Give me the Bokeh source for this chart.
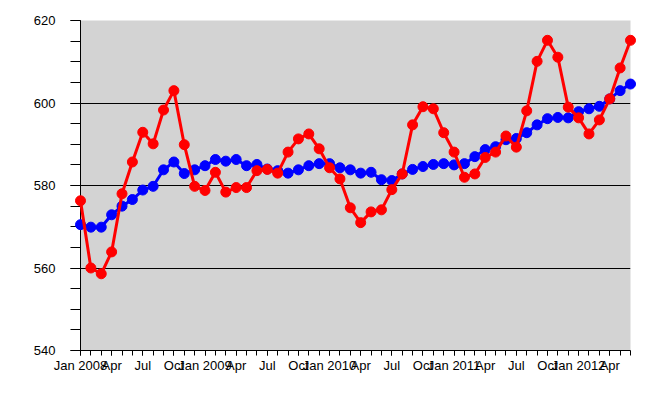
from bokeh.plotting import figure
from bokeh.models import Range1d, FixedTicker
from bokeh.embed import file_html
from bokeh.resources import INLINE

# ---- data ----
month_names = ["Jan", "Feb", "Mar", "Apr", "May", "Jun",
               "Jul", "Aug", "Sep", "Oct", "Nov", "Dec"]
start_year = 2008
n_months = 54  # Jan 2008 .. Jun 2012

red_values = [576.3, 560.0, 558.6, 563.9, 578.0, 585.7, 592.9, 590.1, 598.3, 603.0, 589.9, 579.8,
              578.8, 583.2, 578.4, 579.5, 579.5, 583.6, 583.9, 583.0, 588.1, 591.3, 592.5, 588.9,
              584.3, 581.6, 574.6, 571.0, 573.6, 574.1, 579.0, 582.8, 594.7, 599.1, 598.6, 592.8,
              588.1, 582.0, 582.8, 586.8, 588.1, 592.0, 589.3, 598.1, 610.1, 615.2, 611.1, 599.0,
              596.4, 592.5, 595.9, 601.0, 608.5, 615.2]

blue_values = [570.5, 569.9, 569.9, 572.9, 575.0, 576.6, 578.9, 579.8, 583.8, 585.7, 582.9, 583.8,
               584.8, 586.3, 585.9, 586.3, 584.8, 585.1, 584.0, 583.6, 583.0, 583.8, 584.8, 585.3,
               585.3, 584.3, 583.8, 583.0, 583.2, 581.4, 581.2, 582.8, 583.9, 584.6, 585.1, 585.3,
               585.0, 585.3, 587.0, 588.7, 589.4, 591.1, 591.4, 592.8, 594.7, 596.2, 596.5, 596.4,
               597.9, 598.6, 599.2, 601.0, 603.0, 604.6]

y_major = [540, 560, 580, 600, 620]
y_minor = list(range(540, 621, 5))

x = list(range(n_months))

p = figure(width=642, height=392, output_backend="svg", toolbar_location=None,
           x_range=Range1d(0, n_months - 1), y_range=Range1d(540, 620),
           min_border_left=80, min_border_right=12, min_border_top=20, min_border_bottom=42)

p.background_fill_color = "#d3d3d3"
p.border_fill_color = "white"
p.outline_line_color = None

# x axis ticks: quarterly labels, monthly ticks
q_ticks = [i for i in x if i % 3 == 0]
labels = {}
for i in q_ticks:
    m = i % 12
    if m == 0:
        labels[i] = f"{month_names[m]} {start_year + i // 12}"
    else:
        labels[i] = month_names[m]
p.xaxis.ticker = FixedTicker(ticks=q_ticks, minor_ticks=x)
p.xaxis.major_label_overrides = labels
p.yaxis.ticker = FixedTicker(ticks=y_major, minor_ticks=y_minor)

for ax in (p.xaxis, p.yaxis):
    ax.axis_line_color = "black"
    ax.major_tick_line_color = "black"
    ax.minor_tick_line_color = "black"
    ax.major_tick_in = 0
    ax.minor_tick_in = 0
    ax.major_label_text_font = "Liberation Sans"
    ax.major_label_text_font_size = "13px"
    ax.major_label_text_color = "black"

p.xaxis.major_tick_out = 5
p.xaxis.minor_tick_out = 5
p.xaxis.major_label_standoff = 2
p.yaxis.major_tick_out = 10
p.yaxis.minor_tick_out = 10
p.yaxis.major_label_standoff = 15

p.xgrid.grid_line_color = None
p.ygrid.grid_line_color = "black"
p.ygrid.grid_line_width = 1

p.line(x, blue_values, line_color="#0000ff", line_width=3, level="overlay")
p.scatter(x, blue_values, size=10, fill_color="#0000ff", line_color="#0000ff", level="overlay")
p.line(x, red_values, line_color="#ff0000", line_width=3, level="overlay")
p.scatter(x, red_values, size=10, fill_color="#ff0000", line_color="#ff0000", level="overlay")

open("out.html", "w").write(file_html(p, INLINE))
